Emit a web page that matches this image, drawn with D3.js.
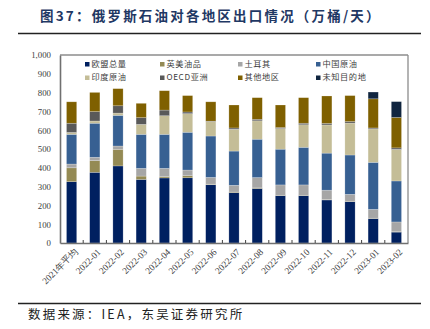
<!DOCTYPE html>
<html><head><meta charset="utf-8">
<script src="https://cdn.jsdelivr.net/npm/d3@7"></script>
<style>body{margin:0;background:#fff}svg{display:block}</style>
</head><body>
<svg id="c" width="430" height="329"></svg>
<script>
const categories = ["2021年平均","2022-01","2022-02","2022-03","2022-04","2022-05","2022-06","2022-07","2022-08","2022-09","2022-10","2022-11","2022-12","2023-01","2023-02"];
const seriesNames = ["欧盟总量","英美油品","土耳其","中国原油","印度原油","OECD亚洲","其他地区","未知目的地"];
const euTotal   = [326,376,410,338,346,347,310,268,290,252,252,229,220,130,58];
const ukUs      = [74,62,88,18,7,11,3,3,3,2,2,2,2,2,2];
const turkey    = [20,18,18,41,44,30,36,36,55,55,55,50,37,47,52];
const china     = [158,181,163,181,181,201,220,182,204,190,200,197,209,250,218];
const india     = [10,12,12,53,99,99,76,116,98,110,120,150,170,178,168];
const oecdAsia  = [49,50,39,36,30,9,3,7,8,5,8,8,8,5,8];
const others    = [114,102,91,76,103,87,103,122,115,120,136,146,138,155,162];
const unknown   = [0,0,0,0,0,0,0,0,0,0,0,0,0,36,84];
const yTicks = [0,100,200,300,400,500,600,700,800,900,1000];
const colors = ["#002060","#948A54","#A6A6A6","#376092","#C4BD97","#595959","#7F6000","#10253F"];

const seriesVals = [euTotal,ukUs,turkey,china,india,oecdAsia,others,unknown];
const table = categories.map((c,i)=>{const o={cat:c}; seriesNames.forEach((s,j)=>o[s]=seriesVals[j][i]); return o;});
const stack = d3.stack().keys(seriesNames)(table);

const svg = d3.select("#c");
const L=60, R=408, T=55, B=243;
const x = d3.scaleBand().domain(categories).range([L,R]).paddingInner(0.56).paddingOuter(0.28);
const y = d3.scaleLinear().domain([0,1000]).range([B,T]);

// title
svg.append("text").attr("x",40).attr("y",21).attr("font-family","Noto Sans CJK SC").attr("font-weight","bold")
  .attr("font-size",13.5).attr("fill","#1F3864").attr("letter-spacing",2.2).text("图37：俄罗斯石油对各地区出口情况（万桶/天）");
svg.append("line").attr("x1",18).attr("x2",421).attr("y1",33.5).attr("y2",33.5).attr("stroke","#222").attr("stroke-width",1.6);

// bars
svg.append("g").selectAll("g").data(stack).join("g").attr("fill",(d,i)=>colors[i])
  .selectAll("rect").data(d=>d).join("rect")
  .attr("x",d=>x(d.data.cat)).attr("width",x.bandwidth())
  .attr("y",d=>y(d[1])).attr("height",d=>Math.max(0,y(d[0])-y(d[1])))
  .attr("stroke","#ffffff").attr("stroke-opacity",0.35).attr("stroke-width",0.6);

// frame
svg.append("line").attr("x1",L).attr("x2",R).attr("y1",T).attr("y2",T).attr("stroke","#8c8c8c").attr("stroke-width",1.3);
svg.append("line").attr("x1",R).attr("x2",R).attr("y1",T).attr("y2",B).attr("stroke","#8c8c8c").attr("stroke-width",1.3);

// y axis
const ya = svg.append("g").attr("transform",`translate(${L},0)`)
  .call(d3.axisLeft(y).tickValues(yTicks).tickSize(0).tickPadding(9).tickFormat(d3.format(",")));
ya.select(".domain").attr("stroke","#707070").attr("stroke-width",1.6);
ya.selectAll("text").attr("font-family","Liberation Serif").attr("font-size",8.8).attr("fill","#404040");

// x axis
const xa = svg.append("g").attr("transform",`translate(0,${B})`)
  .call(d3.axisBottom(x).tickSize(0).tickPadding(0));
xa.select(".domain").attr("stroke","#707070").attr("stroke-width",1.6);
xa.selectAll("text").attr("font-family","Liberation Serif").attr("font-size",9.3).attr("fill","#404040")
  .attr("text-anchor","end").attr("transform","translate(2,5) rotate(-45)").attr("dy","0.7em").attr("dx","0");
// small inner ticks at band boundaries
const step = x.step();
svg.append("g").selectAll("line").data(categories.slice(1)).join("line")
  .attr("x1",d=>x(d)-step*0.28).attr("x2",d=>x(d)-step*0.28).attr("y1",B).attr("y2",B-3)
  .attr("stroke","#404040").attr("stroke-width",1);

// legend
const legX=[87,162,240,318], legY=[64,77.5];
const lg = svg.append("g").selectAll("g").data(seriesNames).join("g")
  .attr("transform",(d,i)=>`translate(${legX[i%4]},${legY[Math.floor(i/4)]})`);
lg.append("rect").attr("x",-2).attr("y",-2).attr("width",4.5).attr("height",4.5).attr("fill",(d,i)=>colors[i]);
lg.append("text").attr("x",4.5).attr("y",0).attr("dy","0.35em").attr("font-family","Noto Sans CJK SC")
  .attr("font-size",8.2).attr("fill","#404040").attr("letter-spacing",0.6).text(d=>d);

// source
svg.append("line").attr("x1",18).attr("x2",421).attr("y1",303.5).attr("y2",303.5).attr("stroke","#222").attr("stroke-width",1.4);
svg.append("text").attr("x",28).attr("y",319).attr("font-family","Noto Sans CJK SC").attr("font-size",12.5)
  .attr("fill","#222").attr("letter-spacing",2.2).text("数据来源：IEA，东吴证券研究所");
</script>
</body></html>
